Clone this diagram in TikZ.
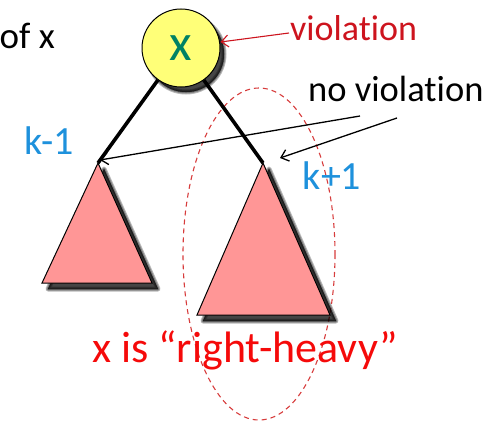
\documentclass[tikz,border=0pt]{standalone}
\usepackage{fontspec}
\setmainfont[Ligatures={NoCommon,NoRare}]{Carlito}
\usetikzlibrary{arrows.meta,shapes.geometric}
\definecolor{pinkfill}{RGB}{255,150,150}
\definecolor{yel}{RGB}{255,255,120}
\definecolor{teal2}{RGB}{0,130,100}
\definecolor{kblue}{RGB}{30,145,220}
\definecolor{vred}{RGB}{205,20,30}
\definecolor{hred}{RGB}{245,10,10}
\definecolor{ered}{RGB}{215,60,60}
\tikzset{
  shadlayer/.style={fill=black,fill opacity=0.28,draw=black,draw opacity=0.28,line width=#1},
  subtree/.style={draw=black,line width=1pt,fill=pinkfill},
  edge/.style={line width=3.6pt,black},
  pointer/.style={line width=1.3pt,-{Straight Barb[length=7pt,width=12pt]}},
}
\begin{document}
\begin{tikzpicture}[x=1pt,y=-1pt]
\useasboundingbox (0,0) rectangle (500,423);
% dashed ellipse
\draw[ered,line width=1.1pt,dash pattern=on 5pt off 4pt] (259,254) ellipse [x radius=76,y radius=166];
% shadows
\foreach \w in {5,3,1,0.1}{
  \path[shadlayer=\w pt,line join=round] (104,169) -- (158,289) -- (48,289) -- cycle;
  \path[shadlayer=\w pt,line join=round] (269,169) -- (336,321) -- (203,321) -- cycle;
  \path[shadlayer=\w pt] (186,54) circle (38);
}
% subtrees
\coordinate (la) at (98,163);
\coordinate (ra) at (263,163);
\path[subtree] (la) -- (152,283) -- (42,283) -- cycle;
\path[subtree] (ra) -- (330,315) -- (197,315) -- cycle;
% root
\node[circle,draw=black,line width=1pt,fill=yel,minimum size=78pt,font=\fontsize{52}{52}\selectfont,text=teal2,inner sep=0pt] (x) at (181,48) {x};
\draw[edge] (x) -- (la);
\draw[edge] (x) -- (ra);
% texts
\node[anchor=base east,inner sep=0pt,font=\fontsize{37}{37}\selectfont] (ofx) at (55,48) {of x};
\node[anchor=base west,inner sep=0pt,font=\fontsize{36}{36}\selectfont,text=vred] (viol) at (290,40) {violation};
\node[anchor=base west,inner sep=0pt,font=\fontsize{36.5}{36.5}\selectfont] (noviol) at (308,101) {no violation};
\node[anchor=base,inner sep=0pt,font=\fontsize{40}{40}\selectfont,text=kblue] (km) at (49,154) {k-1};
\node[anchor=base,inner sep=0pt,font=\fontsize{40}{40}\selectfont,text=kblue] (kp) at (332,189) {k+1};
\node[anchor=base,inner sep=0pt,font=\fontsize{44}{44}\selectfont,text=hred] (rh) at (245,362) {x is “right-heavy”};
% arrows
\coordinate (v1) at (289,33);
\coordinate (n1) at (360,116);
\coordinate (n2) at (397,118);
\draw[pointer,vred,line width=1.1pt] (v1) -- (x.east |- 0,42) ;
\draw[pointer] (n1) -- ([xshift=2pt,yshift=3pt]la);
\draw[pointer] (n2) -- (280,158);
\end{tikzpicture}
\end{document}
